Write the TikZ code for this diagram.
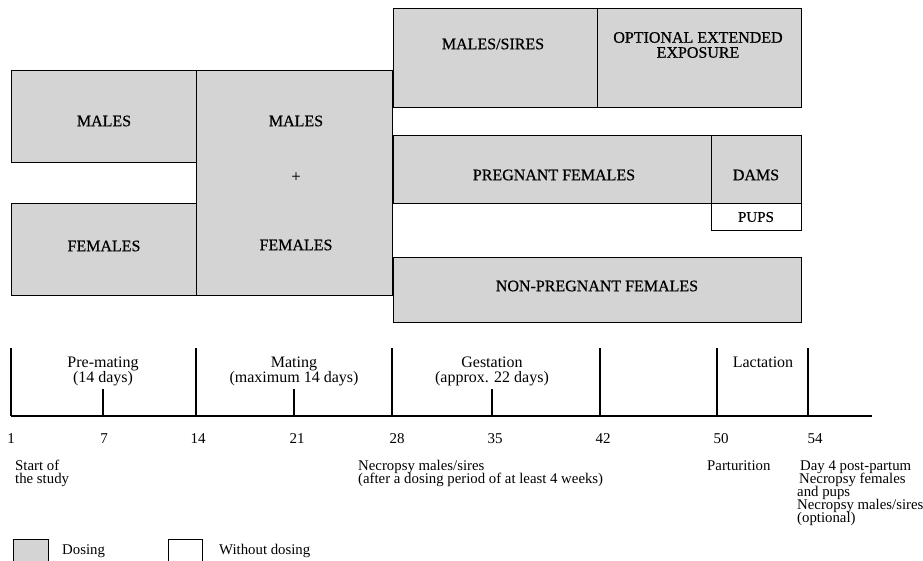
\documentclass[tikz,border=0pt]{standalone}
\usepackage{fontspec}
\setmainfont{Liberation Serif}
\newfontfamily\boxf{Liberation Serif}[FakeBold=0.6]
\newcommand\mytight{\setlength{\lineskiplimit}{-20pt}\setlength{\lineskip}{0pt}}
\begin{document}
\begin{tikzpicture}[x=1pt,y=-1pt,
  dose/.style={draw=black,line width=1.4pt,fill=black!17,inner sep=0pt},
  nodose/.style={draw=black,line width=1.2pt,fill=white,inner sep=0pt},
  btxt/.style={font=\boxf\fontsize{16}{15}\selectfont\mytight,inner sep=0pt,align=center},
  tl/.style={line width=1.3pt},
  lbl/.style={font=\fontsize{16}{14.5}\selectfont\mytight,align=center,inner sep=0pt,anchor=base},
  num/.style={font=\fontsize{15}{15}\selectfont,inner sep=0pt,anchor=base},
  note/.style={font=\fontsize{14.8}{13}\selectfont\mytight,align=left,inner sep=0pt,anchor=base west}]
\useasboundingbox (0,0) rectangle (923,560);
\clip (0,0) rectangle (923,560);
% boxes
\node[dose,minimum width=185pt,minimum height=92pt,anchor=north west] (m1) at (11,70) {};
\node[btxt] (m1t) at (104,121) {MALES};
\node[dose,minimum width=185pt,minimum height=92pt,anchor=north west] (f1) at (11,203) {};
\node[btxt] (f1t) at (104,246) {FEMALES};
\node[dose,minimum width=196pt,minimum height=225pt,anchor=north west] (mf) at (196,70) {};
\node[btxt] (mft) at (296,121) {MALES};
\node[btxt] (mfp) at (296,177) {+};
\node[btxt] (mfb) at (296,245) {FEMALES};
\node[dose,minimum width=204pt,minimum height=99pt,anchor=north west] (ms) at (393,8) {};
\node[btxt] (mst) at (493,44) {MALES/SIRES};
\node[dose,minimum width=204pt,minimum height=99pt,anchor=north west] (oe) at (597,8) {};
\node[btxt] (oet) at (698,45) {OPTIONAL EXTENDED\\EXPOSURE};
\node[dose,minimum width=318pt,minimum height=68pt,anchor=north west] (pf) at (393,135) {};
\node[btxt] (pft) at (554,175) {PREGNANT FEMALES};
\node[dose,minimum width=90pt,minimum height=68pt,anchor=north west] (dm) at (711,135) {};
\node[btxt] (dmt) at (756,175) {DAMS};
\node[nodose,minimum width=90pt,minimum height=27pt,anchor=north west] (pu) at (711,203) {};
\node[btxt,font=\boxf\fontsize{15}{12}\selectfont] (put) at (756,217) {PUPS};
\node[dose,minimum width=408pt,minimum height=65pt,anchor=north west] (np) at (393,257) {};
\node[btxt] (npt) at (597,286) {NON-PREGNANT FEMALES};
% timeline
\coordinate (t0) at (11,416);
\coordinate (t1) at (872,416);
\draw[tl] (t0) -- (t1);
\foreach \x/\n in {11/a,196/b,392/c,600/d,717/e,808/f}{
  \coordinate (T\n) at (\x,416);
  \coordinate (U\n) at (\x,348);
  \draw[tl] (T\n) -- (U\n);
}
\foreach \x/\n in {103/a,294/b,492/c}{
  \coordinate (S\n) at (\x,416);
  \coordinate (V\n) at (\x,389);
  \draw[tl] (S\n) -- (V\n);
}
\node[lbl] (l1) at (103,382) {Pre-mating\\(14 days)};
\node[lbl] (l2) at (294,382) {Mating\\(maximum 14 days)};
\node[lbl] (l3) at (492,382) {Gestation\\(approx. 22 days)};
\node[lbl] (l4) at (763,367) {Lactation};
\foreach \x/\t/\n in {11/1/a,104/7/b,198/14/c,297/21/d,397/28/e,495/35/f,603/42/g,721/50/h,815/54/i}{
  \node[num] (n\n) at (\x,443) {\t};
}
\node[note] (s1) at (15,483) {Start of\\the study};
\node[note] (s2) at (358,483) {Necropsy males/sires\\(after a dosing period of at least 4 weeks)};
\node[note] (s3) at (707,470) {Parturition};
\node[note] (s4) at (797,522) {\hspace*{3pt}Day 4 post-partum\\\hspace*{2pt}Necropsy females\\and pups\\Necropsy males/sires\\(optional)};
% legend
\node[dose,minimum width=35pt,minimum height=30pt,anchor=north west] (lg1) at (13,539) {};
\node[note] (lt1) at (62,554) {Dosing};
\node[nodose,minimum width=34pt,minimum height=30pt,anchor=north west] (lg2) at (168,539) {};
\node[note] (lt2) at (219,554) {Without dosing};
\end{tikzpicture}
\end{document}
